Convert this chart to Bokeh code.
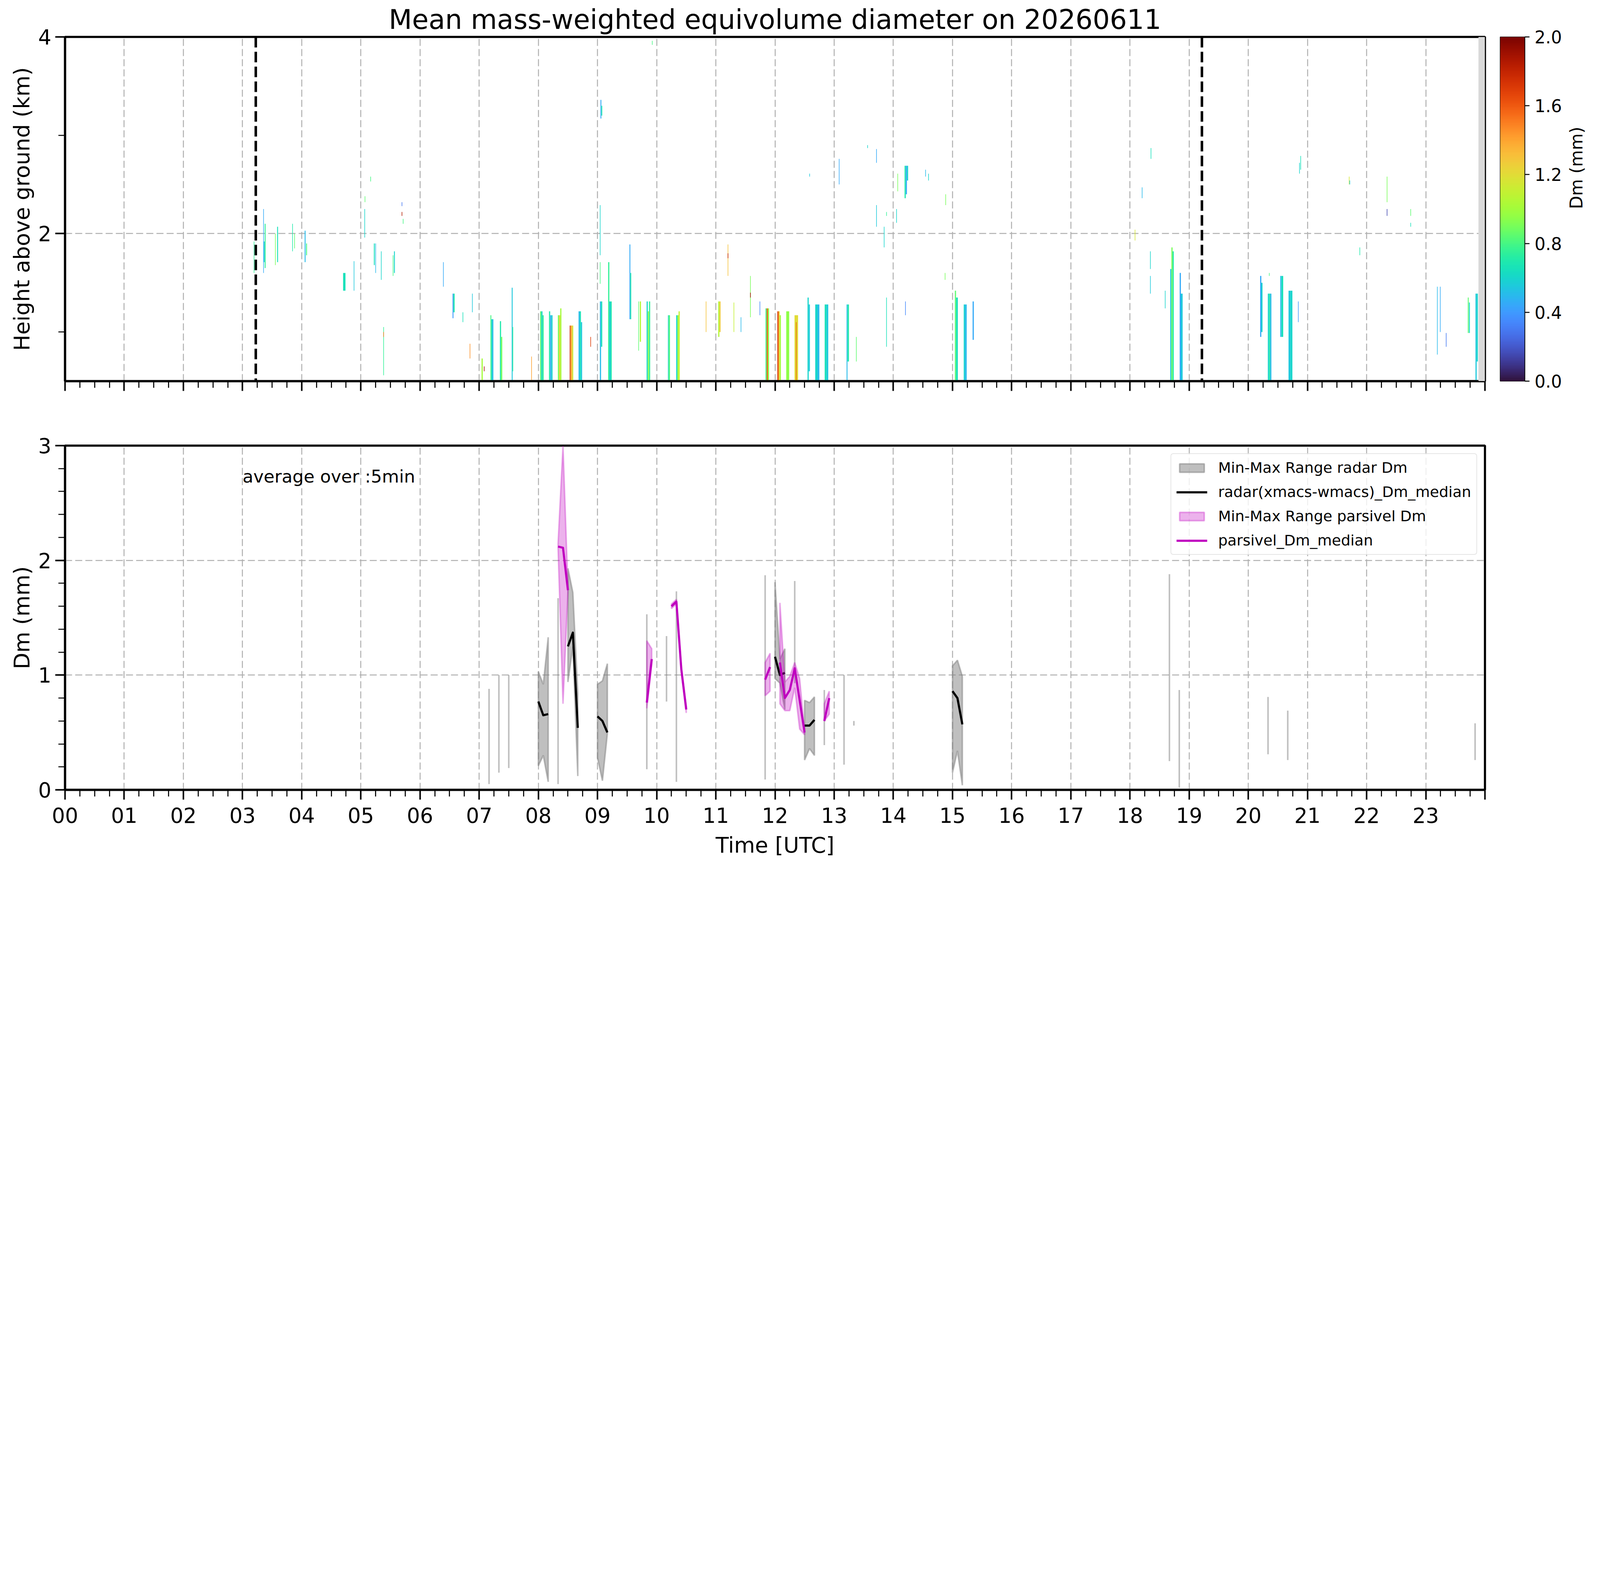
import math
import numpy as np
from bokeh.plotting import figure
from bokeh.models import (FixedTicker, LinearColorMapper, Span, BoxAnnotation,
                          Label, Legend, LegendItem, Range1d)
from bokeh.layouts import column, row
from bokeh.palettes import Turbo256
from bokeh.transform import linear_cmap
from bokeh.embed import file_html
from bokeh.resources import INLINE

FONT = "DejaVu Sans"

# ---------------- data ----------------
hour_labels = ["00", "01", "02", "03", "04", "05", "06", "07", "08", "09", "10", "11",
               "12", "13", "14", "15", "16", "17", "18", "19", "20", "21", "22", "23"]
cb_ticks = [0.0, 0.4, 0.8, 1.2, 1.6, 2.0]
cb_labels = ["0.0", "0.4", "0.8", "1.2", "1.6", "2.0"]

# sunrise / sunset markers (hours UTC) and missing-data span
day_marks = [3.224, 19.216]
nodata_start = [23.89]
nodata_end = [24.0]

# radar Dm streaks: time start/end (h), height bottom/top (km), Dm (mm)
streak_t0 = [3.19, 3.35, 3.36, 3.375, 3.55, 3.585, 3.84, 3.875, 4.05, 4.075, 4.70, 4.88,
             5.06, 5.065, 5.16, 5.22, 5.245, 5.34, 5.38, 5.38, 5.54, 5.56, 5.69, 5.69,
             5.71, 6.39, 6.55, 6.565, 6.72, 6.84, 6.88, 7.04, 7.08, 7.19, 7.205, 7.225,
             7.35, 7.37, 7.55, 7.565, 7.88, 8.03, 8.05, 8.07, 8.18, 8.20, 8.22, 8.33,
             8.35, 8.37, 8.53, 8.545, 8.575, 8.68, 8.70, 8.72, 8.88, 9.04, 9.06, 9.04,
             9.04, 9.05, 9.065, 9.18, 9.20, 9.22, 9.54, 9.555, 9.69, 9.715, 9.83, 9.85,
             9.87, 9.92, 10.19, 10.20, 10.33, 10.35, 10.37, 10.83, 11.04, 11.06, 11.20, 11.20,
             11.30, 11.42, 11.58, 11.58, 11.74, 11.84, 11.86, 11.88, 12.04, 12.06, 12.08, 12.19,
             12.33, 12.355, 12.55, 12.57, 12.58, 12.68, 12.72, 12.84, 12.87, 13.08, 13.21, 13.225,
             13.37, 13.56, 13.71, 13.71, 13.84, 13.88, 13.88, 14.05, 14.07, 14.19, 14.21, 14.23,
             14.20, 14.54, 14.59, 14.88, 14.87, 15.04, 15.06, 15.19, 15.21, 15.34, 18.08, 18.20,
             18.35, 18.34, 18.34, 18.59, 18.68, 18.70, 18.72, 18.84, 18.86, 20.20, 20.22, 20.35,
             20.33, 20.35, 20.37, 20.54, 20.56, 20.68, 20.71, 20.84, 20.86, 20.88, 21.70, 21.71,
             21.88, 22.34, 22.34, 22.74, 22.74, 23.19, 23.24, 23.34, 23.71, 23.73, 23.84, 23.86]
streak_t1 = [3.20, 3.36, 3.375, 3.39, 3.56, 3.60, 3.85, 3.885, 4.065, 4.09, 4.74, 4.89,
             5.07, 5.075, 5.17, 5.235, 5.255, 5.35, 5.39, 5.39, 5.55, 5.575, 5.70, 5.70,
             5.72, 6.40, 6.565, 6.585, 6.73, 6.85, 6.89, 7.06, 7.09, 7.205, 7.225, 7.24,
             7.37, 7.39, 7.565, 7.575, 7.89, 8.05, 8.07, 8.09, 8.20, 8.22, 8.24, 8.35,
             8.37, 8.39, 8.545, 8.575, 8.59, 8.70, 8.72, 8.74, 8.89, 9.06, 9.08, 9.05,
             9.05, 9.065, 9.08, 9.20, 9.22, 9.24, 9.555, 9.57, 9.70, 9.735, 9.85, 9.87,
             9.89, 9.93, 10.20, 10.225, 10.35, 10.37, 10.39, 10.84, 11.06, 11.08, 11.21, 11.21,
             11.31, 11.43, 11.59, 11.59, 11.75, 11.86, 11.88, 11.90, 12.06, 12.08, 12.10, 12.24,
             12.39, 12.365, 12.57, 12.59, 12.59, 12.72, 12.75, 12.87, 12.90, 13.09, 13.225, 13.25,
             13.38, 13.57, 13.72, 13.72, 13.85, 13.89, 13.89, 14.06, 14.08, 14.21, 14.23, 14.25,
             14.21, 14.55, 14.60, 14.89, 14.88, 15.06, 15.09, 15.21, 15.24, 15.36, 18.09, 18.21,
             18.36, 18.35, 18.35, 18.60, 18.70, 18.72, 18.74, 18.86, 18.89, 20.22, 20.24, 20.36,
             20.35, 20.37, 20.39, 20.56, 20.59, 20.71, 20.745, 20.85, 20.87, 20.89, 21.71, 21.72,
             21.89, 22.35, 22.35, 22.75, 22.75, 23.20, 23.25, 23.35, 23.725, 23.745, 23.86, 23.88]
streak_h0 = [1.60, 1.60, 1.71, 1.65, 1.68, 1.71, 1.82, 1.85, 1.71, 1.78, 1.42, 1.42,
             1.96, 2.32, 2.53, 1.68, 1.60, 1.53, 0.56, 0.95, 1.57, 1.60, 2.28, 2.18,
             2.10, 1.46, 1.14, 1.20, 1.10, 0.73, 1.20, 0.50, 0.60, 0.50, 0.50, 0.50,
             0.50, 0.50, 0.50, 0.60, 0.50, 0.50, 0.50, 0.50, 0.50, 0.50, 0.50, 0.50,
             0.50, 0.50, 0.50, 0.50, 0.50, 0.50, 0.50, 0.50, 0.85, 0.50, 0.85, 1.78,
             1.49, 3.17, 3.20, 0.50, 0.50, 0.50, 1.13, 1.13, 0.81, 0.90, 0.50, 0.50,
             0.50, 3.92, 0.50, 0.50, 0.50, 0.50, 0.50, 1.00, 0.95, 1.00, 1.57, 1.75,
             1.00, 1.00, 1.15, 1.35, 1.17, 0.50, 0.50, 0.50, 0.50, 0.50, 0.50, 0.50,
             0.50, 0.50, 0.50, 0.60, 2.58, 0.50, 0.50, 0.50, 0.50, 2.50, 0.50, 0.70,
             0.70, 2.87, 2.72, 2.07, 1.86, 2.18, 0.85, 2.11, 2.43, 2.36, 2.40, 2.54,
             1.17, 2.58, 2.54, 2.29, 1.53, 0.50, 0.50, 0.50, 0.50, 0.92, 1.93, 2.36,
             2.76, 1.64, 1.39, 1.24, 0.50, 0.50, 0.50, 0.50, 0.50, 0.95, 1.00, 1.57,
             0.50, 0.50, 0.50, 0.95, 0.95, 0.50, 0.50, 1.10, 2.61, 2.65, 2.50, 2.50,
             1.78, 2.32, 2.18, 2.18, 2.07, 0.77, 1.00, 0.85, 0.99, 0.99, 0.50, 0.70]
streak_h1 = [1.92, 2.25, 1.92, 2.10, 2.00, 2.07, 2.10, 2.00, 2.03, 1.90, 1.60, 1.72,
             2.25, 2.38, 2.58, 1.90, 1.90, 1.82, 1.05, 1.00, 1.78, 1.82, 2.32, 2.22,
             2.15, 1.71, 1.39, 1.39, 1.20, 0.88, 1.39, 0.73, 0.65, 1.17, 1.13, 1.13,
             1.11, 0.95, 1.45, 1.05, 0.75, 1.21, 1.21, 1.17, 1.21, 1.17, 1.17, 1.17,
             1.17, 1.24, 1.065, 1.065, 1.065, 1.21, 1.21, 1.10, 0.95, 1.31, 1.31, 2.29,
             1.71, 3.36, 3.30, 1.71, 1.31, 1.31, 1.89, 1.60, 1.31, 1.31, 1.31, 1.21,
             1.31, 3.96, 1.17, 1.17, 1.17, 1.17, 1.21, 1.31, 1.31, 1.31, 1.89, 1.80,
             1.30, 1.15, 1.57, 1.40, 1.31, 1.24, 1.24, 1.24, 1.21, 1.21, 1.17, 1.21,
             1.17, 1.10, 1.35, 1.28, 2.61, 1.28, 1.28, 1.28, 1.28, 2.76, 1.28, 1.28,
             0.95, 2.90, 2.86, 2.29, 2.07, 2.22, 1.35, 2.25, 2.61, 2.69, 2.69, 2.69,
             1.31, 2.65, 2.61, 2.40, 1.60, 1.42, 1.35, 1.28, 1.28, 1.31, 2.04, 2.47,
             2.87, 1.82, 1.57, 1.42, 1.64, 1.86, 1.82, 1.60, 1.39, 1.57, 1.50, 1.60,
             1.39, 1.39, 1.39, 1.57, 1.57, 1.42, 1.42, 1.31, 2.72, 2.79, 2.58, 2.54,
             1.86, 2.58, 2.25, 2.25, 2.11, 1.46, 1.46, 0.99, 1.35, 1.30, 1.39, 1.39]
streak_dm = [0.75, 0.45, 0.55, 0.75, 0.90, 0.65, 0.70, 0.85, 0.50, 0.80, 0.65, 0.55,
             0.60, 0.85, 0.80, 0.65, 0.50, 0.60, 0.75, 1.50, 0.80, 0.60, 0.30, 1.85,
             0.80, 0.45, 0.40, 0.70, 0.65, 1.45, 0.55, 1.00, 1.90, 0.80, 0.60, 0.50,
             0.70, 0.90, 0.55, 0.75, 1.40, 0.85, 0.60, 0.75, 0.70, 0.45, 0.60, 0.90,
             1.25, 1.00, 1.75, 1.35, 1.10, 0.50, 0.65, 0.55, 1.70, 0.50, 0.65, 0.60,
             0.80, 0.45, 0.70, 0.75, 0.55, 0.70, 0.45, 0.70, 0.85, 1.05, 0.60, 0.95,
             0.75, 0.80, 0.55, 0.80, 0.60, 1.00, 1.10, 1.30, 1.05, 1.25, 1.30, 1.80,
             1.10, 0.50, 0.90, 1.90, 0.35, 0.80, 1.60, 0.95, 1.70, 1.25, 1.00, 0.95,
             1.20, 1.60, 0.60, 0.55, 0.55, 0.60, 0.50, 0.65, 0.55, 0.45, 0.50, 0.70,
             0.85, 0.60, 0.45, 0.55, 0.60, 0.75, 0.65, 0.60, 0.90, 0.70, 0.45, 0.60,
             0.35, 0.50, 0.60, 0.90, 0.90, 0.85, 0.65, 0.60, 0.50, 0.45, 1.15, 0.50,
             0.65, 0.60, 0.55, 0.60, 0.55, 0.90, 0.70, 0.45, 0.55, 0.45, 0.60, 0.80,
             0.60, 0.70, 0.50, 0.50, 0.65, 0.55, 0.60, 0.40, 0.60, 0.65, 1.15, 0.55,
             0.70, 0.90, 0.15, 0.85, 0.65, 0.50, 0.45, 0.30, 0.85, 0.60, 0.55, 0.60]

# 5-min statistics (minutes after 00 UTC)
radar_minute = [430, 440, 450, 480, 485, 490, 500, 510, 515, 520, 540, 545, 550, 590, 610, 620,
                710, 720, 725, 730, 740, 750, 755, 760, 770, 790, 800, 900, 905, 910,
                1120, 1130, 1220, 1240, 1430]
radar_min = [0.05, 0.15, 0.19, 0.21, 0.30, 0.07, 0.05, 0.94, 1.25, 0.12, 0.28, 0.08, 0.49, 0.18, 0.77, 0.07,
             0.09, 0.97, 0.93, 0.70, 0.93, 0.26, 0.36, 0.30, 0.39, 0.22, 0.56, 0.15, 0.34, 0.04,
             0.25, 0.02, 0.31, 0.26, 0.26]
radar_max = [0.88, 1.00, 1.00, 1.03, 0.92, 1.33, 1.67, 1.93, 1.72, 0.84, 0.92, 0.95, 1.10, 1.53, 1.34, 1.73,
             1.87, 1.81, 1.14, 1.23, 1.82, 0.78, 0.76, 0.81, 0.87, 1.00, 0.60, 1.08, 1.13, 0.99,
             1.88, 0.87, 0.81, 0.69, 0.58]
radar_median = [None, None, None, 0.77, 0.65, 0.66, None, 1.25, 1.37, 0.54, 0.64, 0.60, 0.50, None, None, None,
                None, 1.16, 1.00, 1.02, None, 0.56, 0.56, 0.61, None, None, None, 0.86, 0.80, 0.57,
                None, None, None, None, None]

parsivel_minute = [500, 505, 510, 590, 595, 615, 620, 625, 630, 710, 715, 725, 730, 735, 740, 745, 750, 770, 775]
parsivel_min = [2.10, 0.75, 1.72, 0.71, 1.10, 1.58, 1.62, 1.03, 0.67, 0.82, 0.86, 0.75, 0.69, 0.69, 0.89, 0.53, 0.48, 0.60, 0.66]
parsivel_max = [2.15, 3.00, 1.77, 1.30, 1.23, 1.62, 1.66, 1.07, 0.72, 1.11, 1.19, 1.63, 0.94, 0.99, 1.11, 0.97, 0.51, 0.75, 0.86]
parsivel_median = [2.12, 2.11, 1.74, 0.76, 1.14, 1.60, 1.64, 1.05, 0.70, 0.96, 1.07, 1.11, 0.80, 0.87, 1.06, 0.78, 0.50, 0.60, 0.80]


def split_runs(minutes):
    runs = []
    for i, m in enumerate(minutes):
        if runs and m - minutes[runs[-1][-1]] == 5:
            runs[-1].append(i)
        else:
            runs.append([i])
    return runs


def band_polys(minutes, lo, hi):
    xs, ys = [], []
    for r in split_runs(minutes):
        t = [minutes[i] / 60 for i in r]
        xs.append(t + t[::-1])
        ys.append([hi[i] for i in r] + [lo[i] for i in r][::-1])
    return xs, ys


def median_lines(minutes, med):
    xs, ys = [], []
    for r in split_runs(minutes):
        if len(r) > 1:
            xs.append([minutes[i] / 60 for i in r])
            ys.append([med[i] for i in r])
    return xs, ys


def style(p):
    p.outline_line_color = "black"
    p.outline_line_width = 5.5
    p.background_fill_color = "white"
    p.border_fill_color = "white"
    for ax in list(p.xaxis) + list(p.yaxis):
        ax.axis_line_width = 5.5
        ax.major_tick_out = 25
        ax.major_tick_in = 0
        ax.minor_tick_out = 17
        ax.minor_tick_in = 0
        ax.major_tick_line_width = 3.9
        ax.minor_tick_line_width = 2.7
        ax.major_label_text_font = FONT
        ax.major_label_text_font_size = "53px"
        ax.major_label_text_color = "black"
        ax.major_label_standoff = 10
        ax.axis_label_text_font = FONT
        ax.axis_label_text_font_size = "55px"
        ax.axis_label_text_font_style = "normal"
        ax.axis_label_text_color = "black"
        ax.axis_label_standoff = 7
    for g in p.grid:
        g.grid_line_color = "#b0b0b0"
        g.grid_line_dash = "18 8"
        g.grid_line_width = 2.5


hour_ticks = FixedTicker(ticks=list(range(25)), minor_ticks=[i * 0.25 for i in range(97)])

# ---------------- top panel ----------------
p1 = figure(frame_width=3635, frame_height=881, x_range=Range1d(0, 24), y_range=Range1d(0.5, 4),
            output_backend="svg", toolbar_location=None, tools="",
            min_border_left=166, min_border_right=20, min_border_top=94, min_border_bottom=55)
p1.title.text = "Mean mass-weighted equivolume diameter on 20260611"
p1.title.text_font = FONT
p1.title.text_font_size = "69px"
p1.title.text_font_style = "normal"
p1.title.text_color = "black"
p1.title.align = "center"
p1.title.standoff = 9

src = dict(left=streak_t0, right=streak_t1, bottom=streak_h0, top=streak_h1, dm=streak_dm)
p1.quad(left="left", right="right", bottom="bottom", top="top", source=src,
        fill_color=linear_cmap("dm", Turbo256, 0, 2), line_color=None)

for s, e in zip(nodata_start, nodata_end):
    p1.add_layout(BoxAnnotation(left=s, right=e, fill_color="#d9d9d9", fill_alpha=1.0, line_color=None))
for d in day_marks:
    p1.add_layout(Span(location=d, dimension="height", line_color="black",
                       line_dash="27 11", line_width=6.5))

style(p1)
p1.xaxis.ticker = hour_ticks
p1.xaxis.major_label_overrides = {i: "" for i in range(25)}
p1.yaxis.ticker = FixedTicker(ticks=[2, 4], minor_ticks=[1, 3])
p1.yaxis.axis_label = "Height above ground (km)"

# ---------------- colour bar ----------------
mapper = LinearColorMapper(palette=Turbo256, low=0, high=2)
pcb = figure(frame_width=63, frame_height=881, x_range=Range1d(0, 1), y_range=Range1d(0, 2),
             output_backend="svg", toolbar_location=None, tools="",
             x_axis_location=None, y_axis_location="right",
             min_border_left=19, min_border_right=0, min_border_top=94, min_border_bottom=55)
pcb.image(image=[np.linspace(0, 2, 256).reshape(256, 1)], x=0, y=0, dw=1, dh=2, color_mapper=mapper)
pcb.grid.visible = False
pcb.outline_line_color = "black"
pcb.outline_line_width = 1.7
ax = pcb.yaxis[0]
ax.ticker = FixedTicker(ticks=cb_ticks, minor_ticks=[])
ax.major_label_overrides = {t: l for t, l in zip(cb_ticks, cb_labels)}
ax.axis_line_width = 1.7
ax.major_tick_out = 12
ax.major_tick_in = 0
ax.minor_tick_out = 0
ax.major_tick_line_width = 2.7
ax.major_label_text_font = FONT
ax.major_label_text_font_size = "44px"
ax.major_label_text_color = "black"
ax.major_label_standoff = 13
ax.axis_label = "Dm (mm)"
ax.axis_label_text_font = FONT
ax.axis_label_text_font_size = "44px"
ax.axis_label_text_font_style = "normal"
ax.axis_label_text_color = "black"
ax.axis_label_standoff = 34
ax.axis_label_orientation = math.pi / 2

# ---------------- bottom panel ----------------
p2 = figure(frame_width=3635, frame_height=881, x_range=Range1d(0, 24), y_range=Range1d(0, 3),
            output_backend="svg", toolbar_location=None, tools="",
            min_border_left=166, min_border_right=20, min_border_top=110, min_border_bottom=170)

rxs, rys = band_polys(radar_minute, radar_min, radar_max)
r_band = p2.patches(rxs, rys, fill_color="gray", fill_alpha=0.5, line_color="gray",
                    line_alpha=0.5, line_width=3.9)
mxs, mys = median_lines(radar_minute, radar_median)
r_med = p2.multi_line(mxs, mys, line_color="black", line_width=5.5, line_join="round")

pxs, pys = band_polys(parsivel_minute, parsivel_min, parsivel_max)
p_band = p2.patches(pxs, pys, fill_color="#bf00bf", fill_alpha=0.3, line_color="#bf00bf",
                    line_alpha=0.3, line_width=3.9)
qxs, qys = median_lines(parsivel_minute, parsivel_median)
p_med = p2.multi_line(qxs, qys, line_color="#bf00bf", line_width=5.5, line_join="round")

p2.add_layout(Label(x=3.0, y=2.73, text="average over :5min", text_font=FONT,
                    text_font_size="45px", text_color="black", text_baseline="alphabetic"))

legend = Legend(items=[
    LegendItem(label="Min-Max Range radar Dm", renderers=[r_band]),
    LegendItem(label="radar(xmacs-wmacs)_Dm_median", renderers=[r_med]),
    LegendItem(label="Min-Max Range parsivel Dm", renderers=[p_band]),
    LegendItem(label="parsivel_Dm_median", renderers=[p_med]),
], location="top_right")
legend.label_text_font = FONT
legend.label_text_font_size = "38px"
legend.label_text_color = "black"
legend.glyph_width = 79
legend.glyph_height = 27
legend.label_height = 38
legend.spacing = 18
legend.padding = 13
legend.margin = 20
legend.label_standoff = 28
legend.border_line_color = "#cccccc"
legend.border_line_width = 2.7
legend.border_radius = 7
legend.background_fill_alpha = 0.8
p2.add_layout(legend)

style(p2)
p2.xaxis.ticker = hour_ticks
overrides = {i: hour_labels[i] for i in range(24)}
overrides[24] = ""
p2.xaxis.major_label_overrides = overrides
p2.xaxis.major_label_standoff = 20
p2.xaxis.axis_label = "Time [UTC]"
p2.xaxis.axis_label_standoff = 22
p2.yaxis.ticker = FixedTicker(ticks=[0, 1, 2, 3], minor_ticks=[i * 0.2 for i in range(16)])
p2.yaxis.axis_label = "Dm (mm)"

layout = column(row(p1, pcb), p2)
open("out.html", "w").write(file_html(layout, INLINE))
